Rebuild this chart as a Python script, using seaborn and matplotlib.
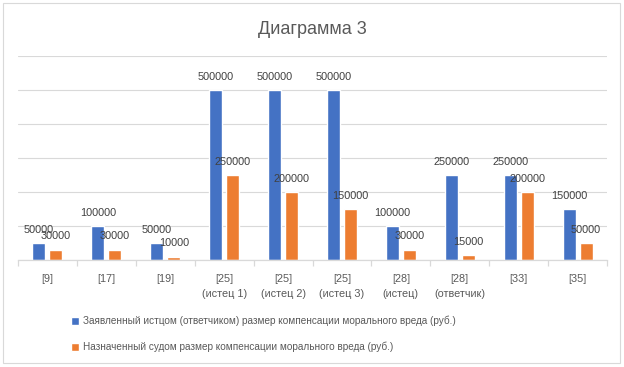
import seaborn as sns
import matplotlib.pyplot as plt
import pandas as pd
from matplotlib.patches import Rectangle

# Datos del gráfico
categorias = ['[9]', '[17]', '[19]', '[25]\n(истец 1)', '[25]\n(истец 2)',
              '[25]\n(истец 3)', '[28]\n(истец)', '[28]\n(ответчик)', '[33]', '[35]']
заявлено = [50000, 100000, 50000, 500000, 500000, 500000, 100000, 250000, 250000, 150000]
назначено = [30000, 30000, 10000, 250000, 200000, 150000, 30000, 15000, 200000, 50000]
серия_1 = 'Заявленный истцом (ответчиком) размер компенсации морального вреда (руб.)'
серия_2 = 'Назначенный судом размер компенсации морального вреда (руб.)'

datos = pd.DataFrame({
    'categoria': categorias * 2,
    'valor': заявлено + назначено,
    'serie': [серия_1] * len(categorias) + [серия_2] * len(categorias),
})

sns.set_theme(style='white')
plt.rcParams['font.family'] = ['Liberation Sans', 'DejaVu Sans']
gris = '#595959'

fig = plt.figure(figsize=(6.24, 3.67), dpi=100)
ax = fig.add_axes([18 / 624, 1 - 260 / 367, 589 / 624, 204 / 367])

sns.barplot(data=datos, x='categoria', y='valor', hue='serie',
            palette=['#4472C4', '#ED7D31'], saturation=1, width=0.58, gap=0.24,
            ax=ax, legend=True)

# Etiquetas de datos
for cont in ax.containers:
    ax.bar_label(cont, fmt='%d', padding=6, fontsize=7.8, color='#404040')

# Ejes y cuadrícula
ax.set_ylim(0, 600000)
ax.set_xlim(-0.5, len(categorias) - 0.5)
ax.set_yticks(range(0, 600001, 100000))
ax.yaxis.grid(True, color='#D9D9D9', linewidth=0.8)
ax.set_axisbelow(True)
ax.tick_params(axis='y', left=False, labelleft=False)
ax.set_xlabel('')
ax.set_ylabel('')
for lado in ['left', 'right', 'top']:
    ax.spines[lado].set_visible(False)
ax.spines['bottom'].set_color('#D9D9D9')
ax.spines['bottom'].set_linewidth(0.9)

ax.set_xticks([i - 0.5 for i in range(len(categorias) + 1)], minor=True)
ax.tick_params(axis='x', which='minor', length=4, color='#D9D9D9', width=0.9, bottom=True)
ax.tick_params(axis='x', which='major', length=0, pad=10, labelsize=7.8, labelcolor=gris)
plt.setp(ax.get_xticklabels(), linespacing=1.6, va='top')

# Leyenda
handles, labels = ax.get_legend_handles_labels()
ax.get_legend().remove()
fig.legend(handles, labels, loc='upper left', bbox_to_anchor=(62 / 624, 1 - 307 / 367),
           frameon=False, fontsize=7.2, labelcolor=gris, handlelength=0.8,
           handleheight=0.8, handletextpad=0.4, labelspacing=1.55)

# Título
fig.text(0.5, 1 - 30 / 367, 'Диаграмма 3', ha='center', va='center', fontsize=13,
         color=gris)

# Marco del gráfico
fig.patches.append(Rectangle((3 / 624, 1 - 363 / 367), 617 / 624, 360 / 367,
                             transform=fig.transFigure, fill=False,
                             edgecolor='#D9D9D9', linewidth=0.8))

plt.savefig('out.png', dpi=100)
